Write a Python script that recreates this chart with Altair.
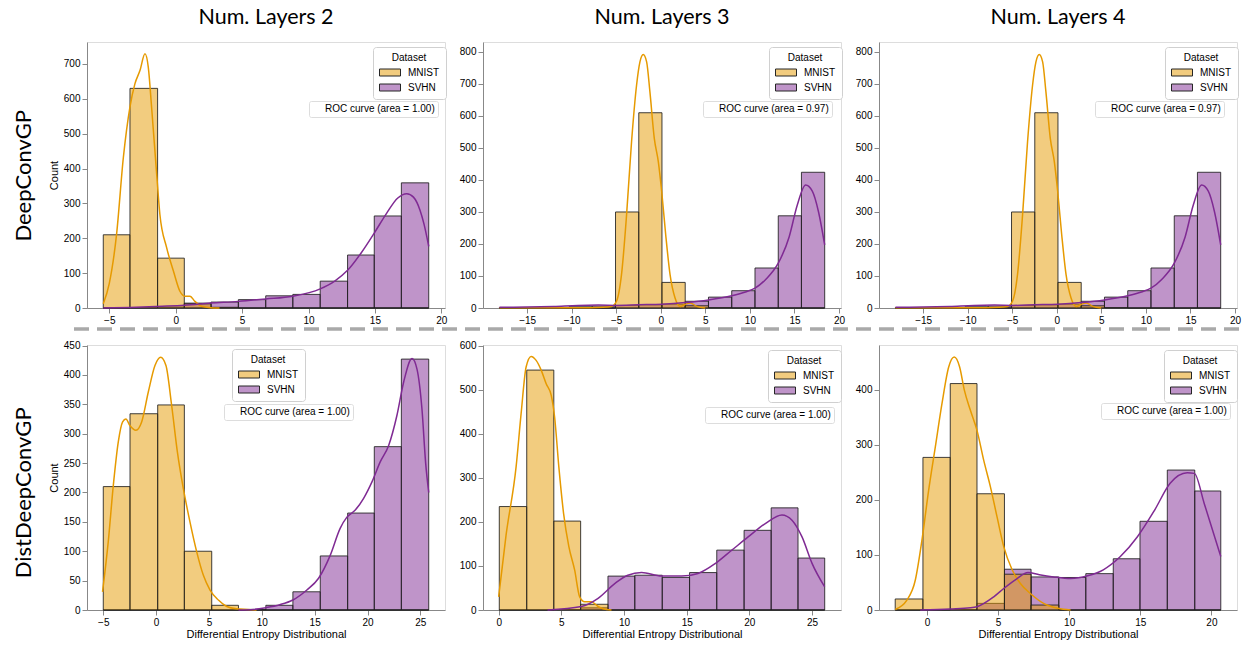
import altair as alt
import pandas as pd

# ------------------------------------------------------------------ data
DATASETS = ["MNIST", "SVHN"]
COL_TITLES = ["Num. Layers 2", "Num. Layers 3", "Num. Layers 4"]
ROW_TITLES = ["DeepConvGP", "DistDeepConvGP"]
ROC_LABELS = ["ROC curve (area = 1.00)", "ROC curve (area = 0.97)", "ROC curve (area = 0.97)",
              "ROC curve (area = 1.00)", "ROC curve (area = 1.00)", "ROC curve (area = 1.00)"]
Y_TITLE = "Count"
X_TITLE = "Differential Entropy Distributional"

# Panel 1: DeepConvGP, 2 layers
P1_EDGES = [-5.45, -3.44, -1.36, 0.65, 2.66, 4.72, 6.78, 8.82, 10.88, 12.94, 14.95, 16.99, 19.05]
P1_MNIST = [210, 630, 143, 12, 2, 0, 0, 0, 0, 0, 0, 0]
P1_SVHN = [0, 1, 3, 14, 17, 24, 35, 39, 77, 152, 264, 359]
P1_KDE_MNIST_X = [-5.45, -5.0, -4.45, -3.94, -3.45, -3.07, -2.69, -2.31, -2.06, -1.81, -1.43, -1.19,
                  -0.68, -0.17, 0.32, 0.70, 1.08, 1.45, 1.96, 2.6, 3.3]
P1_KDE_MNIST_Y = [12, 70, 211, 431, 575, 643, 681, 729, 690, 575, 384, 269, 173, 106, 48, 34, 34, 19, 5, 1, 0]
P1_KDE_SVHN_X = [-5.45, -3.0, -1.0, 0.65, 2.66, 4.72, 6.78, 8.82, 10.88, 12.0, 12.94, 14.0, 14.95, 15.9,
                 16.7, 17.4, 17.9, 18.4, 18.7, 19.05]
P1_KDE_SVHN_Y = [0, 2, 5, 8, 14, 19, 26, 34, 55, 78, 108, 160, 215, 273, 315, 328, 318, 280, 240, 177]

# Panels 2 and 3: DeepConvGP, 3 and 4 layers (identical)
P2_EDGES = [-18.12, -15.51, -12.90, -10.30, -7.69, -5.08, -2.47, 0.13, 2.74, 5.35, 7.96, 10.57, 13.18, 15.78, 18.39]
P2_MNIST = [0, 0, 0, 0, 0, 300, 610, 80, 7, 1, 0, 0, 0, 0]
P2_SVHN = [1, 1, 2, 4, 6, 8, 10, 12, 21, 34, 54, 125, 288, 424]
P2_KDE_MNIST_X = [-18.1, -12.0, -8.0, -6.5, -5.53, -4.97, -4.41, -3.84, -3.28, -2.72, -2.34, -1.97, -1.59,
                  -1.22, -0.73, -0.28, 0.10, 0.55, 1.04, 1.60, 2.16, 2.73, 3.29, 4.04, 4.98]
P2_KDE_MNIST_Y = [1, 1, 1, 2, 5, 21, 104, 291, 520, 696, 769, 792, 769, 675, 530, 457, 364, 229, 104, 31,
                  5, 11, 16, 5, 0]
P2_KDE_SVHN_X = [-18.1, -15.0, -12.0, -9.3, -7.0, -5.0, -2.5, 0.13, 2.74, 5.35, 7.96, 9.5, 10.57, 11.8,
                 13.18, 14.4, 15.3, 16.25, 17.0, 17.7, 18.39]
P2_KDE_SVHN_Y = [2, 3, 5, 8, 9, 8, 10, 12, 17, 25, 38, 50, 62, 90, 140, 222, 320, 384, 365, 300, 197]

# Panel 4: DistDeepConvGP, 2 layers
P4_EDGES = [-5.0, -2.47, 0.15, 2.67, 5.26, 7.79, 10.38, 12.94, 15.53, 18.12, 20.64, 23.2, 25.79]
P4_MNIST = [210, 334, 349, 100, 8, 0, 0, 0, 0, 0, 0, 0]
P4_SVHN = [0, 0, 0, 0, 0, 1, 8, 31, 92, 165, 278, 427]
P4_KDE_MNIST_X = [-5.07, -4.53, -4.05, -3.58, -3.17, -2.86, -2.48, -1.91, -1.37, -0.74, -0.11, 0.43, 0.93,
                  1.47, 2.01, 2.58, 3.20, 3.84, 4.47, 5.10, 5.89, 6.68, 7.6, 8.6, 9.5]
P4_KDE_MNIST_Y = [31, 116, 212, 286, 320, 325, 314, 306, 320, 371, 416, 430, 416, 348, 269, 206, 150, 99,
                  59, 34, 17, 6, 2, 1, 0]
P4_KDE_SVHN_X = [7.8, 9.2, 10.38, 11.7, 12.94, 14.26, 15.37, 16.47, 17.41, 18.05, 18.84, 19.63, 20.42,
                 21.2, 22.0, 22.78, 23.42, 24.21, 24.68, 25.15, 25.5, 25.79]
P4_KDE_SVHN_Y = [0, 1, 4, 9, 17, 34, 54, 93, 139, 158, 170, 190, 218, 252, 280, 331, 388, 428, 410, 342, 250, 200]

# Panel 5: DistDeepConvGP, 3 layers
P5_EDGES = [0.05, 2.24, 4.40, 6.54, 8.72, 10.86, 13.05, 15.23, 17.40, 19.58, 21.74, 23.88, 26.01]
P5_MNIST = [235, 545, 202, 13, 0, 0, 0, 0, 0, 0, 0, 0]
P5_SVHN = [0, 0, 1, 5, 77, 79, 74, 85, 136, 181, 232, 118]
P5_KDE_MNIST_X = [0.0, 0.59, 1.39, 1.79, 2.19, 2.59, 2.99, 3.39, 3.79, 4.19, 4.46, 4.80, 5.18, 5.60, 6.06,
                  6.46, 6.86, 7.39, 7.93, 8.33, 9.0]
P5_KDE_MNIST_Y = [30, 170, 325, 446, 552, 576, 567, 545, 514, 488, 439, 325, 219, 144, 91, 30, 19, 19, 8, 3, 0]
P5_KDE_SVHN_X = [3.9, 6.6, 7.9, 9.26, 10.3, 11.4, 13.0, 14.6, 15.9, 17.3, 18.6, 19.9, 21.3, 22.6, 23.4,
                 24.2, 25.0, 26.0]
P5_KDE_SVHN_Y = [0, 8, 26, 60, 79, 85, 77, 77, 83, 106, 136, 166, 197, 216, 204, 166, 106, 53]

# Panel 6: DistDeepConvGP, 4 layers
P6_EDGES = [-2.23, -0.28, 1.64, 3.52, 5.45, 7.32, 9.27, 11.17, 13.10, 14.98, 16.90, 18.83, 20.66]
P6_MNIST = [20, 277, 411, 211, 65, 9, 0, 0, 0, 0, 0, 0]
P6_SVHN = [0, 0, 1, 12, 74, 60, 59, 66, 93, 161, 254, 216]
P6_KDE_MNIST_X = [-2.23, -1.41, -0.82, -0.35, 0.12, 0.59, 1.06, 1.53, 1.92, 2.30, 2.63, 3.05, 3.52, 3.99,
                  4.46, 4.93, 5.40, 5.99, 6.57, 7.27, 8.2, 9.2, 10.1]
P6_KDE_MNIST_Y = [1, 18, 54, 127, 217, 296, 375, 441, 459, 441, 399, 363, 326, 272, 224, 169, 115, 73, 48,
                  30, 12, 3, 0]
P6_KDE_SVHN_X = [-0.47, 1.64, 3.05, 3.52, 4.70, 5.40, 6.34, 7.1, 7.9, 8.9, 10.1, 11.3, 12.4, 13.6, 14.8,
                 16.0, 17.1, 18.3, 18.8, 19.5, 20.66]
P6_KDE_SVHN_Y = [0, 2, 4, 6, 24, 39, 57, 68, 64, 60, 57, 62, 73, 97, 133, 181, 230, 249, 248, 193, 97]

# ------------------------------------------------------------------ style
ORANGE = "#E69A00"
PURPLE = "#7F2A93"
ORANGE_LIGHT = "#F2CC7F"
PURPLE_LIGHT = "#BF94C9"
FONT = "DejaVu Sans"
TITLE_FONT = "Lato"
PANEL_W = 358
RECT_SYMBOL = "M-1,-0.7H3.2V0.7H-1Z"


def make_panel(edges, mnist, svhn, kmx, kmy, ksx, ksy, roc_label, xdom, ydom, xticks, yticks,
               leg_xy, roc_xy, height, col_title=None, ytitle=None, xtitle=None):
    rows = []
    for name, counts in (("SVHN", svhn), ("MNIST", mnist)):
        for i, c in enumerate(counts):
            rows.append({"start": edges[i], "end": edges[i + 1], "count": c, "base": 0, "Dataset": name})
    bars_df = pd.DataFrame(rows)

    krows = []
    for name, xs, ys in (("MNIST", kmx, kmy), ("SVHN", ksx, ksy)):
        for xv, yv in zip(xs, ys):
            krows.append({"x": xv, "y": yv, "Dataset": name})
    kde_df = pd.DataFrame(krows)

    x_axis = alt.Axis(values=xticks, title=xtitle, format="d", labelPadding=2, titlePadding=1, grid=False,
                      titleFontWeight="normal")
    y_axis = alt.Axis(values=yticks, title=ytitle, format="d", labelPadding=2, titlePadding=4, grid=False,
                      titleFontWeight="normal")
    xs = alt.Scale(domain=xdom, nice=False, zero=False)
    ys = alt.Scale(domain=ydom, nice=False, zero=False)

    bars = alt.Chart(bars_df).mark_rect(
        fillOpacity=0.5, stroke="#1f1f1f", strokeWidth=1, strokeOpacity=0.85
    ).encode(
        x=alt.X("start:Q", scale=xs, axis=x_axis),
        x2="end:Q",
        y=alt.Y("count:Q", scale=ys, axis=y_axis),
        y2="base:Q",
        color=alt.Color("Dataset:N", scale=alt.Scale(domain=DATASETS, range=[ORANGE, PURPLE]), legend=None),
    )

    lines = alt.Chart(kde_df).mark_line(strokeWidth=1.5, interpolate="monotone").encode(
        x=alt.X("x:Q", scale=xs, axis=x_axis),
        y=alt.Y("y:Q", scale=ys, axis=y_axis),
        stroke=alt.Stroke("Dataset:N", scale=alt.Scale(domain=DATASETS, range=[ORANGE, PURPLE]),
                          legend=None),
    )

    legend_layer = alt.Chart(pd.DataFrame({"Dataset": DATASETS})).mark_square(opacity=0, size=1).encode(
        fill=alt.Fill(
            "Dataset:N",
            scale=alt.Scale(domain=DATASETS, range=[ORANGE_LIGHT, PURPLE_LIGHT]),
            legend=alt.Legend(
                title="Dataset", orient="none", legendX=leg_xy[0], legendY=leg_xy[1],
                fillColor="white", strokeColor="#d0d0d0", cornerRadius=3, padding=6,
                titleAnchor="middle", titleAlign="center", titleFontSize=10, titleFontWeight="normal",
                titlePadding=4, labelFontSize=10, labelOffset=18, rowPadding=4,
                symbolType=RECT_SYMBOL, symbolSize=100, symbolStrokeColor="#262626",
                symbolStrokeWidth=1, symbolOpacity=1,
            ),
        ),
    )

    roc = alt.Chart(pd.DataFrame({"label": [roc_label]})).mark_point(opacity=0, size=1).encode(
        shape=alt.Shape(
            "label:N",
            legend=alt.Legend(
                title=None, orient="none", legendX=roc_xy[0], legendY=roc_xy[1],
                fillColor="white", strokeColor="#dddddd", cornerRadius=2, padding=3,
                labelFontSize=10, symbolSize=10, labelOffset=3, symbolOpacity=0,
            ),
        )
    )

    chart = alt.layer(bars, lines, legend_layer, roc).properties(width=PANEL_W, height=height)
    if col_title:
        chart = chart.properties(
            title=alt.TitleParams(col_title, font=TITLE_FONT, fontSize=21.5, fontWeight="normal",
                                  anchor="middle", offset=14, color="black")
        )
    return chart


p1 = make_panel(P1_EDGES, P1_MNIST, P1_SVHN, P1_KDE_MNIST_X, P1_KDE_MNIST_Y, P1_KDE_SVHN_X, P1_KDE_SVHN_Y,
                ROC_LABELS[0], [-6.675, 20.275], [0, 763], [-5, 0, 5, 10, 15, 20],
                [0, 100, 200, 300, 400, 500, 600, 700], (286, 5), (222, 59), 266,
                col_title=COL_TITLES[0], ytitle=Y_TITLE)
p2 = make_panel(P2_EDGES, P2_MNIST, P2_SVHN, P2_KDE_MNIST_X, P2_KDE_MNIST_Y, P2_KDE_SVHN_X, P2_KDE_SVHN_Y,
                ROC_LABELS[1], [-19.95, 20.22], [0, 831], [-15, -10, -5, 0, 5, 10, 15, 20],
                [0, 100, 200, 300, 400, 500, 600, 700, 800], (286, 5), (220, 59), 266,
                col_title=COL_TITLES[1])
p3 = make_panel(P2_EDGES, P2_MNIST, P2_SVHN, P2_KDE_MNIST_X, P2_KDE_MNIST_Y, P2_KDE_SVHN_X, P2_KDE_SVHN_Y,
                ROC_LABELS[2], [-19.95, 20.22], [0, 831], [-15, -10, -5, 0, 5, 10, 15, 20],
                [0, 100, 200, 300, 400, 500, 600, 700, 800], (286, 5), (216, 59), 266,
                col_title=COL_TITLES[2])
p4 = make_panel(P4_EDGES, P4_MNIST, P4_SVHN, P4_KDE_MNIST_X, P4_KDE_MNIST_Y, P4_KDE_SVHN_X, P4_KDE_SVHN_Y,
                ROC_LABELS[3], [-6.54, 27.33], [0, 451], [-5, 0, 5, 10, 15, 20, 25],
                [0, 50, 100, 150, 200, 250, 300, 350, 400, 450], (145, 4), (137, 59), 265,
                ytitle=Y_TITLE, xtitle=X_TITLE)
p5 = make_panel(P5_EDGES, P5_MNIST, P5_SVHN, P5_KDE_MNIST_X, P5_KDE_MNIST_Y, P5_KDE_SVHN_X, P5_KDE_SVHN_Y,
                ROC_LABELS[4], [-1.25, 27.31], [0, 602], [0, 5, 10, 15, 20, 25],
                [0, 100, 200, 300, 400, 500, 600], (285, 5), (222, 62), 265, xtitle=X_TITLE)
p6 = make_panel(P6_EDGES, P6_MNIST, P6_SVHN, P6_KDE_MNIST_X, P6_KDE_MNIST_Y, P6_KDE_SVHN_X, P6_KDE_SVHN_Y,
                ROC_LABELS[5], [-3.37, 21.8], [0, 481], [0, 5, 10, 15, 20],
                [0, 100, 200, 300, 400], (285, 5), (222, 58), 265, xtitle=X_TITLE)

INDEP = dict(fill="independent", shape="independent")


def make_row(panels, label, dx):
    return alt.hconcat(*panels, spacing=38, bounds="flush").resolve_scale(**INDEP).resolve_legend(
        **INDEP
    ).properties(
        title=alt.TitleParams(label, orient="left", anchor="middle", font=TITLE_FONT,
                              fontSize=22, fontWeight="normal", color="black", offset=12, dx=dx)
    )


row1 = make_row([p1, p2, p3], ROW_TITLES[0], -10)
row2 = make_row([p4, p5, p6], ROW_TITLES[1], -3)

separator = alt.Chart(pd.DataFrame({"v": [0]})).mark_rule(
    strokeDash=[15, 8], strokeWidth=3.5, color="#a9a9a9"
).encode(
    x=alt.value(-13), x2=alt.value(1155), y=alt.value(-1)
).properties(width=1150, height=9, view=alt.ViewBackground(stroke="transparent"))

chart = alt.vconcat(row1, separator, row2, spacing=0).resolve_scale(
    **INDEP
).resolve_legend(**INDEP).configure_axis(
    labelFont=FONT, labelFontSize=9.5, labelColor="#262626",
    titleFont=FONT, titleFontSize=9.5, titleFontWeight="normal", titleColor="#262626",
    tickSize=3.5, tickColor="#333333", tickWidth=0.8, domain=False, grid=False,
).configure_legend(
    labelFont=FONT, titleFont=FONT, labelColor="#262626", titleColor="#262626", titleFontWeight="normal",
).configure_view(
    stroke="#444444", strokeWidth=1
).configure(background="white", padding={"left": 12, "top": 6, "right": 5, "bottom": 3})

chart.save("out.html", embed_options={"renderer": "svg", "actions": False})
